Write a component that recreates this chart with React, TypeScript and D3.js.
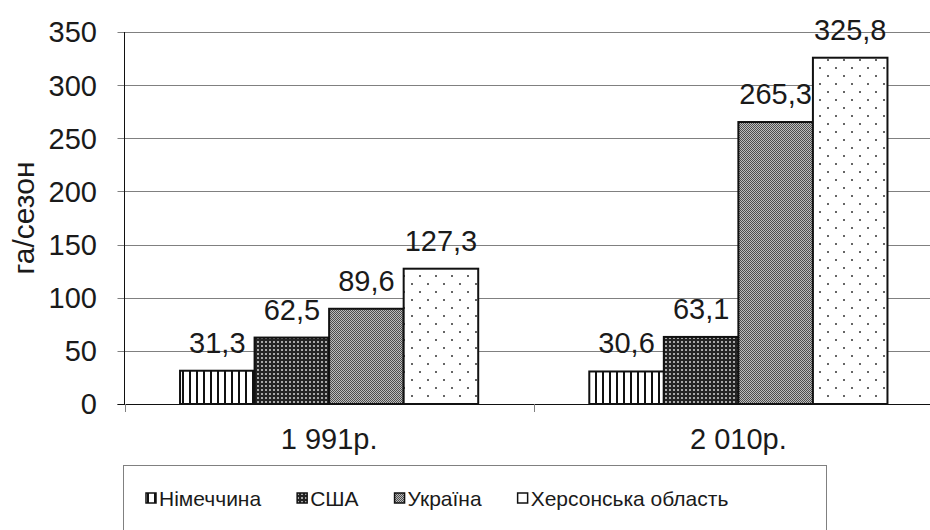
import React, { useEffect, useRef } from "react";
import * as d3 from "d3";

const categories = ["1 991р.", "2 010р."];
const seriesNames = ["Німеччина", "США", "Україна", "Херсонська область"];
const germany = [31.3, 30.6];
const usa = [62.5, 63.1];
const ukraine = [89.6, 265.3];
const kherson = [127.3, 325.8];
const yTicks = [0, 50, 100, 150, 200, 250, 300, 350];
const yTitle = "га/сезон";

const seriesValues = [germany, usa, ukraine, kherson];
const patternIds = ["pGer", "pUsa", "pUkr", "pKhe"];

const W = 930;
const H = 530;
const FONT = "'Liberation Sans', Arial, sans-serif";
const BIG = 29;

export default function App() {
  const ref = useRef<SVGSVGElement | null>(null);

  useEffect(() => {
    const svg = d3.select(ref.current);
    svg.selectAll("*").remove();

    const defs = svg.append("defs");
    const pg = defs.append("pattern").attr("id", "pGer").attr("patternUnits", "userSpaceOnUse").attr("width", 7).attr("height", 10);
    pg.append("rect").attr("width", 7).attr("height", 10).attr("fill", "#fff");
    pg.append("rect").attr("x", 0).attr("width", 2).attr("height", 10).attr("fill", "#111");
    const pu = defs.append("pattern").attr("id", "pUsa").attr("patternUnits", "userSpaceOnUse").attr("width", 4).attr("height", 4);
    pu.append("rect").attr("width", 4).attr("height", 4).attr("fill", "#242424");
    pu.append("rect").attr("x", 1).attr("y", 1).attr("width", 2).attr("height", 2).attr("fill", "#a8a8a8");
    const pk = defs.append("pattern").attr("id", "pUkr").attr("patternUnits", "userSpaceOnUse").attr("width", 2).attr("height", 2);
    pk.append("rect").attr("width", 2).attr("height", 2).attr("fill", "#bdbdbd");
    pk.append("rect").attr("width", 1).attr("height", 1).attr("fill", "#4d4d4d");
    pk.append("rect").attr("x", 1).attr("y", 1).attr("width", 1).attr("height", 1).attr("fill", "#4d4d4d");
    const ph = defs.append("pattern").attr("id", "pKhe").attr("patternUnits", "userSpaceOnUse").attr("width", 16).attr("height", 16);
    ph.append("rect").attr("width", 16).attr("height", 16).attr("fill", "#fff");
    ph.append("circle").attr("cx", 4).attr("cy", 4).attr("r", 1).attr("fill", "#333");
    ph.append("circle").attr("cx", 12).attr("cy", 12).attr("r", 1).attr("fill", "#333");

    const left = 124.5;
    const right = 943;
    const y0 = 404;
    const yTop = 32;

    const x = d3.scaleBand<string>().domain(categories).range([left, right]).paddingInner(0.2714).paddingOuter(0.1357);
    const xs = d3.scaleBand<string>().domain(seriesNames).range([0, x.bandwidth()]).padding(0);
    const y = d3.scaleLinear().domain([0, 350]).range([y0, yTop]);

    svg.append("rect").attr("width", W).attr("height", H).attr("fill", "#fff");

    svg.append("g").selectAll("line").data(yTicks.filter((t) => t > 0)).join("line")
      .attr("x1", left).attr("x2", W).attr("y1", (d) => Math.round(y(d)) + 0.5).attr("y2", (d) => Math.round(y(d)) + 0.5)
      .attr("stroke", "#808080").attr("stroke-width", 1);

    svg.append("g").selectAll("line").data(yTicks).join("line")
      .attr("x1", left - 7).attr("x2", left).attr("y1", (d) => Math.round(y(d)) + 0.5).attr("y2", (d) => Math.round(y(d)) + 0.5)
      .attr("stroke", "#808080");
    svg.append("g").selectAll("text").data(yTicks).join("text")
      .attr("x", 97).attr("y", (d) => y(d)).attr("dy", "0.36em").attr("text-anchor", "end")
      .attr("font-family", FONT).attr("font-size", BIG).attr("fill", "#1a1a1a").text((d) => String(d));

    svg.append("text").attr("transform", `translate(34,218) rotate(-90)`).attr("text-anchor", "middle")
      .attr("font-family", FONT).attr("font-size", 30).attr("fill", "#1a1a1a").text(yTitle);

    seriesNames.forEach((s, si) => {
      svg.append("g").selectAll("rect").data(categories.map((c, ci) => ({ c, v: seriesValues[si][ci] }))).join("rect")
        .attr("x", (d) => (x(d.c) as number) + (xs(s) as number))
        .attr("y", (d) => y(d.v))
        .attr("width", xs.bandwidth())
        .attr("height", (d) => y0 - y(d.v))
        .attr("fill", `url(#${patternIds[si]})`)
        .attr("stroke", "#111").attr("stroke-width", 2);
    });
    seriesNames.forEach((s, si) => {
      svg.append("g").selectAll("text").data(categories.map((c, ci) => ({ c, v: seriesValues[si][ci] }))).join("text")
        .attr("x", (d) => (x(d.c) as number) + (xs(s) as number) + xs.bandwidth() / 2)
        .attr("y", (d) => y(d.v) - 18)
        .attr("text-anchor", "middle").attr("font-family", FONT).attr("font-size", BIG).attr("fill", "#1a1a1a")
        .text((d) => d.v.toFixed(1).replace(".", ","));
    });

    svg.append("line").attr("x1", left - 7).attr("x2", W).attr("y1", y0 + 0.5).attr("y2", y0 + 0.5).attr("stroke", "#111");
    svg.append("line").attr("x1", left).attr("x2", left).attr("y1", yTop).attr("y2", y0).attr("stroke", "#111");
    const bounds = [0, 1, 2].map((i) => left + i * x.step());
    svg.append("g").selectAll("line").data(bounds).join("line")
      .attr("x1", (d) => Math.round(d) + 0.5).attr("x2", (d) => Math.round(d) + 0.5).attr("y1", y0).attr("y2", y0 + 8)
      .attr("stroke", "#808080");
    svg.append("g").selectAll("text").data(categories).join("text")
      .attr("x", (d) => (x(d) as number) + x.bandwidth() / 2).attr("y", 449).attr("text-anchor", "middle")
      .attr("font-family", FONT).attr("font-size", BIG).attr("fill", "#1a1a1a").text((d) => d);

    svg.append("rect").attr("x", 123.5).attr("y", 465.5).attr("width", 703).attr("height", 80)
      .attr("fill", "#fff").attr("stroke", "#808080").attr("stroke-width", 1);
    let lx = 146;
    const ly = 498;
    seriesNames.forEach((s, si) => {
      svg.append("rect").attr("x", lx).attr("y", ly - 5).attr("width", 10).attr("height", 10)
        .attr("fill", `url(#${patternIds[si]})`).attr("stroke", "#111").attr("stroke-width", 1.5);
      const t = svg.append("text").attr("x", lx + 13).attr("y", ly).attr("dy", "0.36em")
        .attr("font-family", FONT).attr("font-size", 21).attr("fill", "#1a1a1a").text(s);
      const w = (t.node() as SVGTextElement).getComputedTextLength();
      lx += 13 + w + 36;
    });
  }, []);

  return <svg ref={ref} width={W} height={H} style={{ position: "absolute", left: 0, top: 0 }} />;
}
